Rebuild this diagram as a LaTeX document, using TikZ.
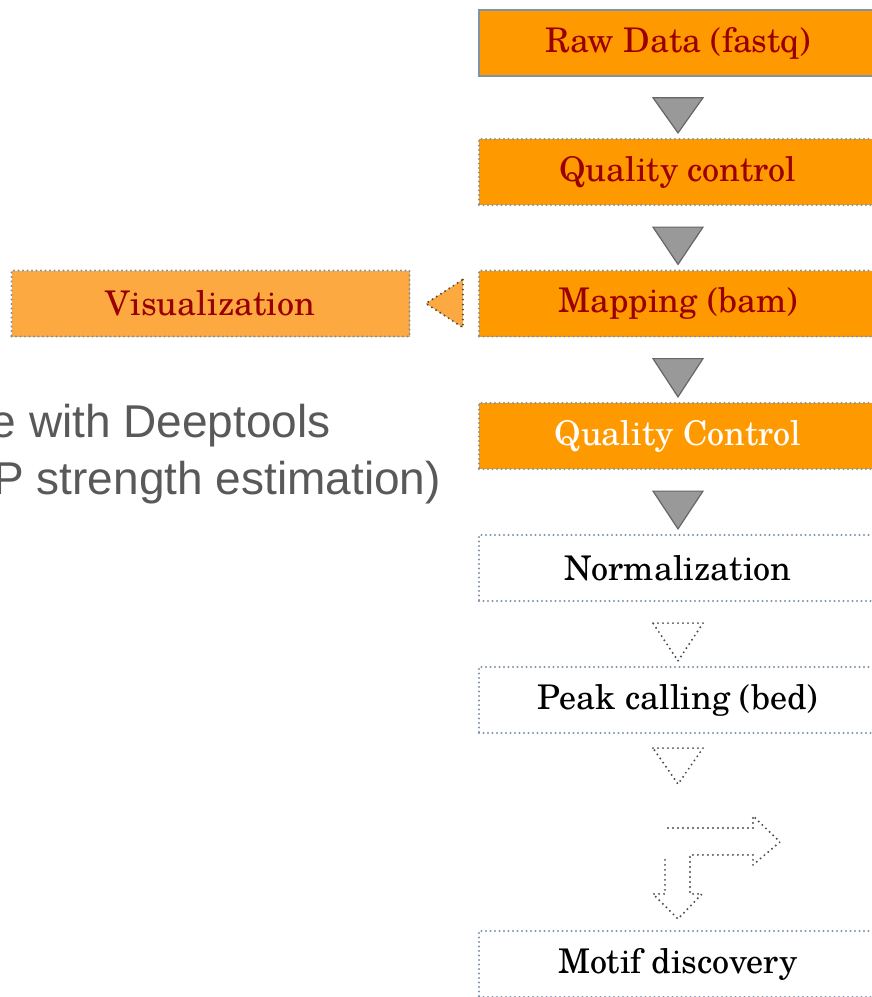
\documentclass[tikz,border=0pt]{standalone}
\usepackage{fontspec}
\setmainfont{TeX Gyre Schola}
\newfontfamily\notefont{Liberation Sans}
\usetikzlibrary{calc}

\definecolor{boxorange}{HTML}{FF9900}
\definecolor{lightorange}{HTML}{FBA940}
\definecolor{darkred}{HTML}{990000}
\definecolor{edgeblue}{HTML}{7F93A8}
\definecolor{arrowgray}{HTML}{999999}
\definecolor{arrowedge}{HTML}{666666}
\definecolor{notegray}{HTML}{595959}
\definecolor{dotgray}{HTML}{4D4D4D}

\tikzset{
  stage/.style={rectangle, minimum width=398pt, minimum height=66pt,
    inner sep=0pt, font=\fontsize{34}{40}\selectfont, text=darkred},
  solidedge/.style={draw=edgeblue, line width=1.5pt},
  dotedge/.style={draw=edgeblue, line width=2.2pt,
    dash pattern=on 0pt off 4.5pt, line cap=round},
  solidtri/.style={fill=arrowgray, draw=arrowedge, line width=1.2pt},
  hollowtri/.style={draw=dotgray, line width=2.2pt,
    dash pattern=on 0pt off 5pt, line cap=round},
  note/.style={inner sep=0pt, text=notegray,
    font=\notefont\fontsize{46}{52}\selectfont}
}

% down-pointing block arrow between two stacked stages
\newcommand{\downblock}[3]{%
  \draw[#3] ($(#1.south)+(-25,21)$) -- ($(#1.south)+(25,21)$)
    -- ($(#2.north)+(0,-5)$) -- cycle;}

\begin{document}
\begin{tikzpicture}[x=1pt, y=-1pt]
  \useasboundingbox (0,0) rectangle (872,997);
  \clip (0,0) rectangle (872,997);

  % pipeline stages
  \node[stage, solidedge, fill=boxorange] (raw)  at (678,43)    {Raw Data (fastq)};
  \node[stage, dotedge, fill=boxorange]   (qca)  at (678,172)   {Quality control};
  \node[stage, dotedge, fill=boxorange]   (map)  at (678,303.5) {Mapping (bam)};
  \node[stage, dotedge, fill=boxorange, text=white] (qcb) at (678,436) {Quality Control};
  \node[stage, dotedge, text=black]       (norm) at (678,568)   {Normalization};
  \node[stage, dotedge, text=black]       (peak) at (678,700)   {Peak calling (bed)};
  \node[stage, dotedge, text=black]       (motif) at (678,964)  {Motif discovery};

  % side branch
  \node[stage, dotedge, fill=lightorange] (vis) at (210.5,303.5) {Visualization};

  % block arrows
  \downblock{raw}{qca}{solidtri}
  \downblock{qca}{map}{solidtri}
  \downblock{map}{qcb}{solidtri}
  \downblock{qcb}{norm}{solidtri}
  \downblock{norm}{peak}{hollowtri}
  \draw[hollowtri] ($(peak.south)+(-25,14)$) -- ($(peak.south)+(25,14)$)
    -- ($(peak.south)+(0,50)$) -- cycle;

  % left-pointing arrow towards the visualization stage
  \draw[hollowtri, fill=lightorange]
    ($(map.west)+(-15,-24)$) -- ($(map.west)+(-15,24)$)
    -- ($(map.west)+(-52,0)$) -- cycle;

  % bent arrow above the last stage
  \begin{scope}[shift={(motif.north)}]
    \draw[hollowtri] (-10,-102) -- (75,-102) -- (75,-114) -- (102,-88)
      -- (75,-65) -- (75,-75) -- (12,-75) -- (12,-36) -- (24,-36)
      -- (0,-11) -- (-25,-36) -- (-13,-36) -- (-13,-74);
  \end{scope}

  % notes on the left
  \node[note, anchor=base east] (noteA) at (331,437) {e with Deeptools};
  \node[note, anchor=base east] (noteB) at (441,494) {P strength estimation)};
\end{tikzpicture}
\end{document}
